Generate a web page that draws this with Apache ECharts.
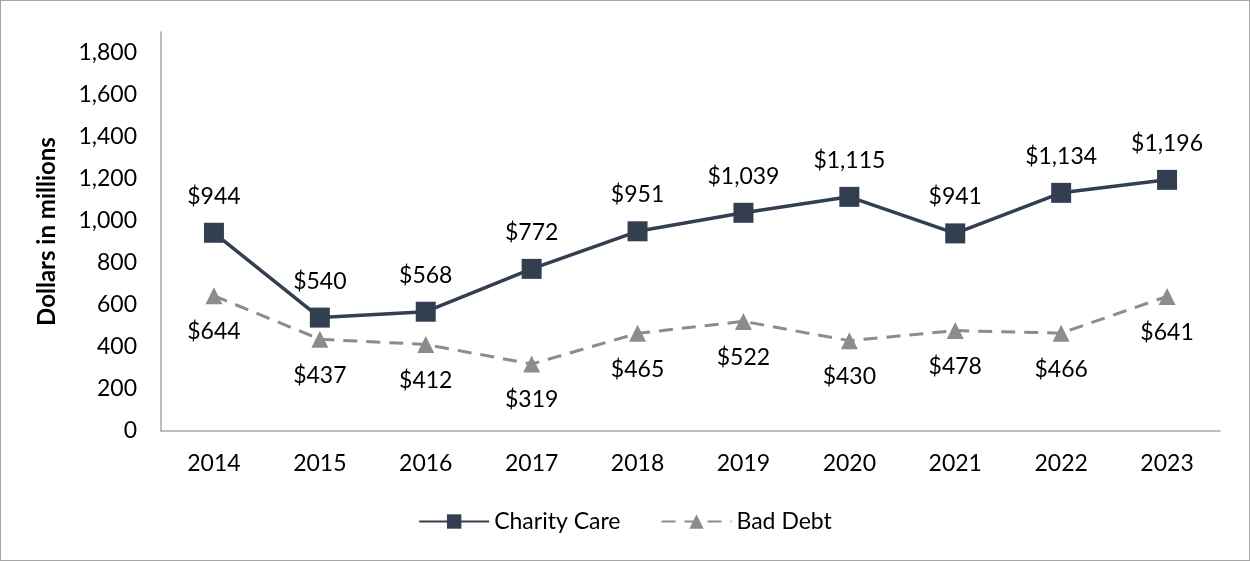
<!DOCTYPE html>
<html>
<head>
<meta charset="utf-8">
<script src="https://cdn.jsdelivr.net/npm/echarts@6/dist/echarts.min.js"></script>
<style>
  html, body { margin: 0; padding: 0; background: #fff; }
  #myChart { width: 1250px; height: 561px; box-sizing: border-box; border: 1px solid #a6a6a6; }
</style>
</head>
<body>
<div id="myChart"></div>
<script>
// chart data
const years = ["2014", "2015", "2016", "2017", "2018", "2019", "2020", "2021", "2022", "2023"];
const charityCare = [944, 540, 568, 772, 951, 1039, 1115, 941, 1134, 1196];
const badDebt = [644, 437, 412, 319, 465, 522, 430, 478, 466, 641];

let myChart = echarts.init(document.getElementById("myChart"));

const font = "Lato, 'Open Sans', sans-serif";
const money = (p) => "$" + p.value.toLocaleString("en-US");

let option = {
  animation: false,
  textStyle: { fontFamily: font },
  grid: { left: 160, right: 29, top: 31, bottom: 129 },
  legend: {
    bottom: 22,
    left: "center",
    itemWidth: 70,
    itemHeight: 18,
    itemGap: 40,
    textStyle: { fontSize: 23, color: "#000", fontFamily: font },
    data: ["Charity Care", "Bad Debt"],
  },
  xAxis: {
    type: "category",
    data: years,
    boundaryGap: true,
    axisLine: { lineStyle: { color: "#a6a6a6", width: 1.5 } },
    axisTick: { length: 8, lineStyle: { color: "#a6a6a6", width: 1.5 } },
    axisLabel: { fontSize: 23, color: "#000", margin: 21 },
  },
  yAxis: {
    type: "value",
    min: 0,
    max: 1900,
    interval: 200,
    name: "Dollars in millions",
    nameLocation: "middle",
    nameGap: 102,
    nameTextStyle: { fontSize: 24, fontWeight: "bold", color: "#000" },
    axisLine: { show: true, lineStyle: { color: "#a6a6a6", width: 1.5 } },
    axisTick: { show: false },
    splitLine: { show: false },
    axisLabel: {
      fontSize: 23,
      color: "#000",
      margin: 24,
      showMaxLabel: false,
      formatter: (v) => (v % 200 === 0 ? v.toLocaleString("en-US") : ""),
    },
  },
  series: [
    {
      name: "Charity Care",
      type: "line",
      data: charityCare,
      symbol: "rect",
      symbolSize: 20,
      itemStyle: { color: "#333f50" },
      lineStyle: { width: 3.5, color: "#333f50" },
      label: {
        show: true,
        position: "top",
        distance: 15,
        fontSize: 23,
        color: "#000",
        formatter: money,
      },
      z: 3,
    },
    {
      name: "Bad Debt",
      type: "line",
      data: badDebt,
      symbol: "triangle",
      symbolSize: 17,
      itemStyle: { color: "#8c8c8c" },
      lineStyle: { width: 3, type: [14, 9], color: "#8c8c8c" },
      label: {
        show: true,
        position: "bottom",
        distance: 16,
        fontSize: 23,
        color: "#000",
        formatter: money,
      },
      z: 2,
    },
  ],
};

myChart.setOption(option);
</script>
</body>
</html>
